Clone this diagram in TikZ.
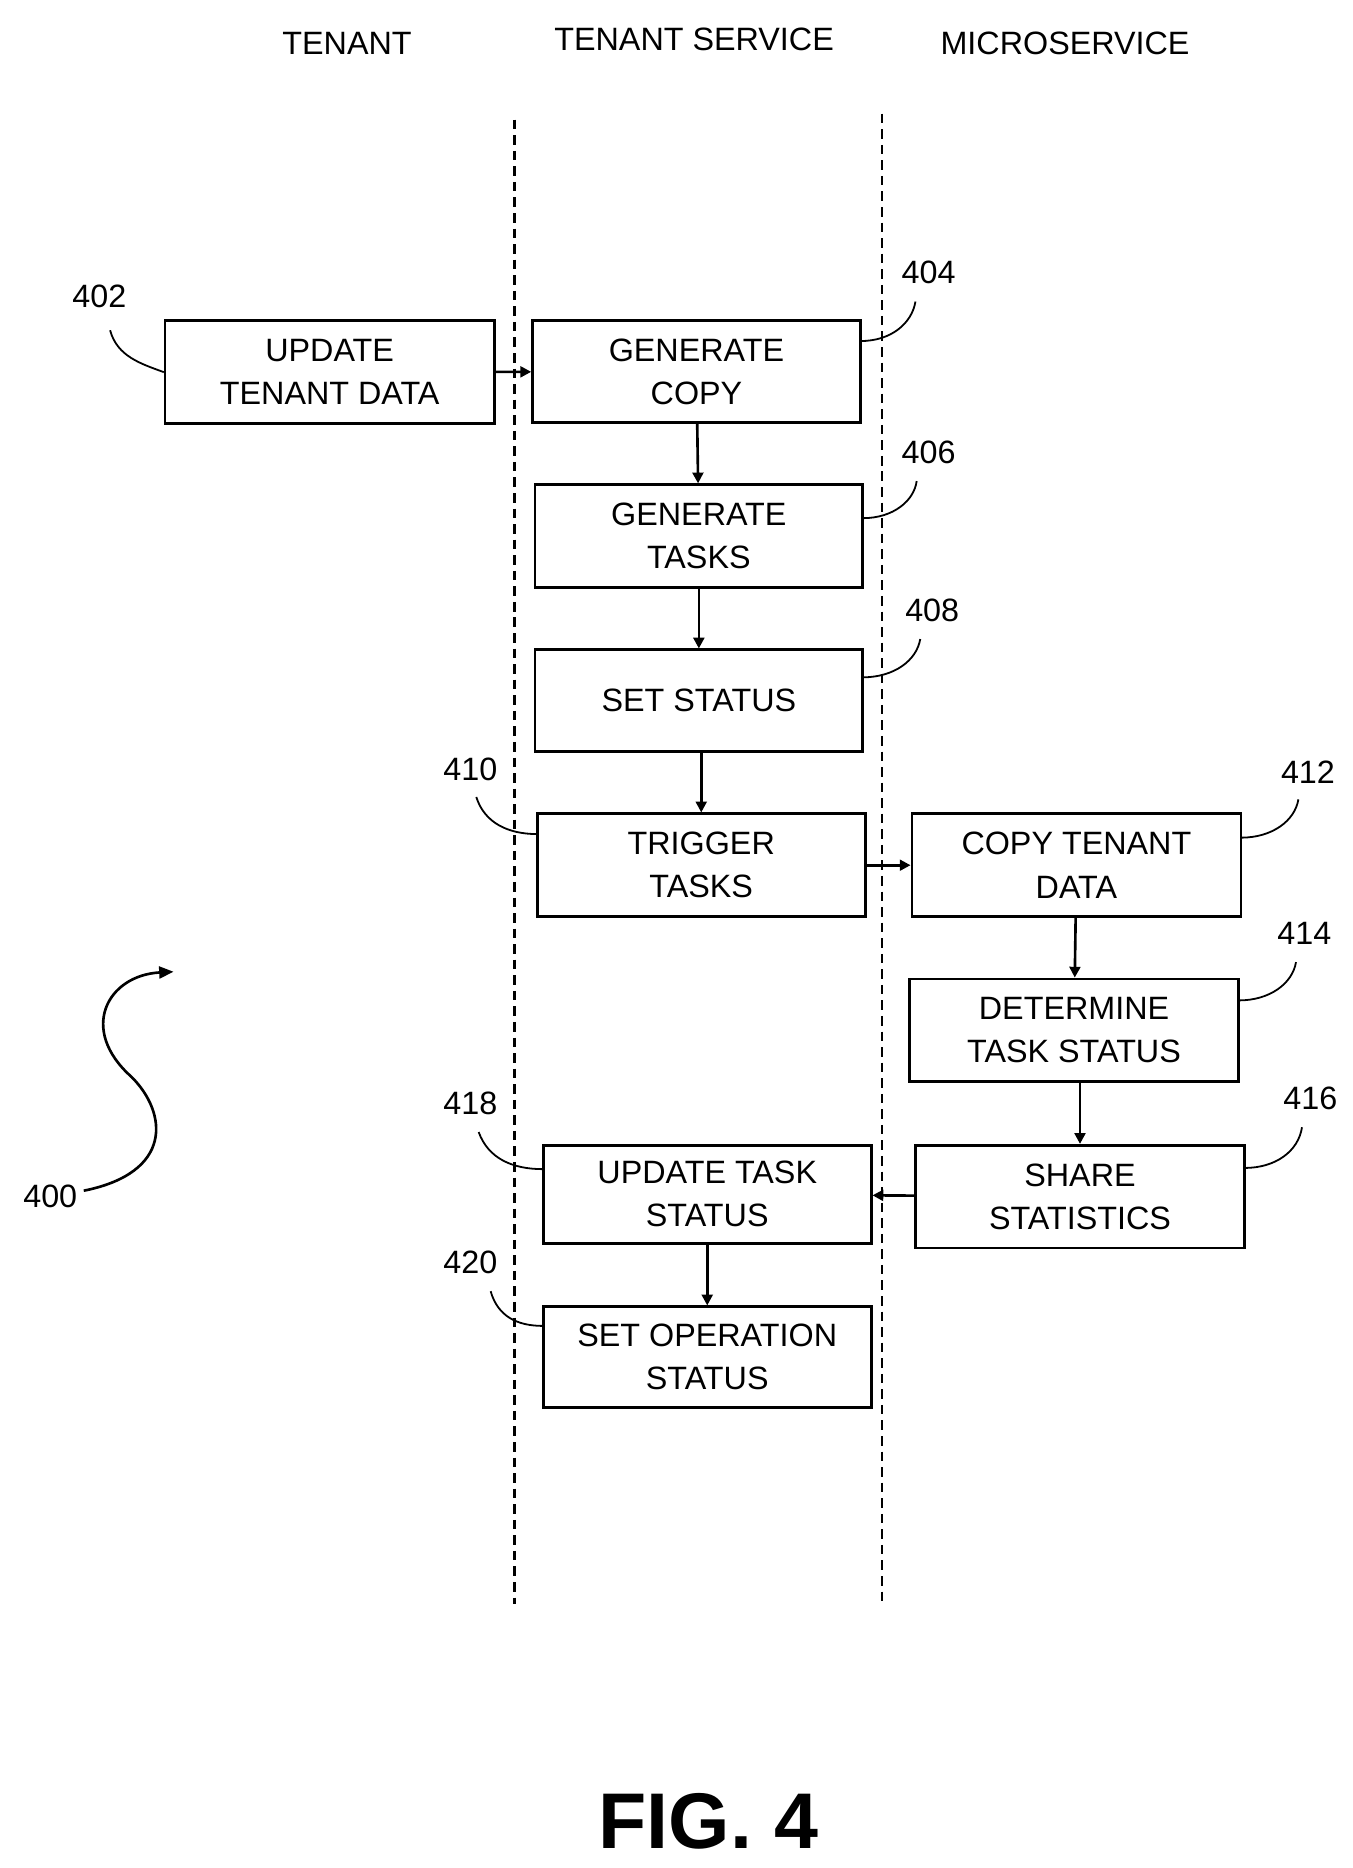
\documentclass[tikz,border=0pt]{standalone}
\usepackage{fontspec}
\setmainfont{Liberation Sans}
\usetikzlibrary{arrows.meta}
\begin{document}
\begin{tikzpicture}[x=1pt,y=-1pt,
  box/.style={draw,line width=2.2pt,inner sep=0pt,align=center,font=\fontsize{27}{36}\selectfont},
  arr/.style={line width=2.2pt,-{Triangle[length=9pt,width=9pt]}},
  lead/.style={line width=1.5pt},
  num/.style={font=\fontsize{27}{30}\selectfont},
  hdr/.style={font=\fontsize{27}{30}\selectfont},
  lane/.style={line width=2.2pt,dash pattern=on 8pt off 5pt}]
\useasboundingbox (0,0) rectangle (1130,1561);
\node[hdr] (h1) at (290,36) {TENANT};
\node[hdr] (h2) at (580,33) {TENANT SERVICE};
\node[hdr] (h3) at (890,36) {MICROSERVICE};
\coordinate (l1t) at (430,100); \coordinate (l1b) at (430,1340);
\coordinate (l2t) at (737,95); \coordinate (l2b) at (737,1340);
\draw[lane] (l1t) -- (l1b);
\draw[lane] (l2t) -- (l2b);
\newcommand{\bx}[6]{\node[box,minimum width=#4pt,minimum height=#5pt] (#1) at (#2,#3) {#6};}
\bx{b402}{275.5}{311}{275}{86}{UPDATE\\TENANT DATA}
\bx{b404}{582}{310.5}{274}{85}{GENERATE\\COPY}
\bx{b406}{584}{448}{274}{86}{GENERATE\\TASKS}
\bx{b408}{584}{585.5}{274}{85}{SET STATUS}
\bx{b410}{586}{723}{274}{86}{TRIGGER\\TASKS}
\bx{b412}{899.5}{723}{275}{86}{COPY TENANT\\DATA}
\bx{b414}{897.5}{861}{275}{86}{DETERMINE\\TASK STATUS}
\bx{b416}{902.5}{1000}{275}{86}{SHARE\\STATISTICS}
\bx{b418}{591}{998}{274}{82}{UPDATE TASK\\STATUS}
\bx{b420}{591}{1134}{274}{84}{SET OPERATION\\STATUS}
\draw[arr] (b402) -- (b404);
\draw[arr] (b404) -- (b406);
\draw[arr] (b406) -- (b408);
\draw[arr] (b408.south -| b410) -- (b410);
\draw[arr] (b410) -- (b412);
\draw[arr] (b412) -- (b414);
\draw[arr] (b414.south -| b416) -- (b416);
\draw[arr] (b416) -- (b418);
\draw[arr] (b418) -- (b420);
\node[num] (n402) at (83,248) {402};
\node[num] (n404) at (776,228) {404};
\node[num] (n406) at (776,378) {406};
\node[num] (n408) at (779,510) {408};
\node[num] (n410) at (393,643) {410};
\node[num] (n412) at (1093,645) {412};
\node[num] (n414) at (1090,780) {414};
\node[num] (n416) at (1095,918) {416};
\node[num] (n418) at (393,922) {418};
\node[num] (n420) at (393,1055) {420};
\node[num] (n400) at (42,1000) {400};
\draw[lead] (92,276) .. controls (98,298) and (118,304) .. (b402.west);
\draw[lead] (719,285) .. controls (745,285) and (762,270) .. (765,252);
\draw[lead] (721,433) .. controls (747,433) and (764,418) .. (766,402);
\draw[lead] (721,566) .. controls (747,566) and (766,552) .. (769,534);
\draw[lead] (398,666) .. controls (405,688) and (425,697) .. (449,697);
\draw[lead] (1037,700) .. controls (1063,700) and (1082,686) .. (1085,668);
\draw[lead] (1035,836) .. controls (1061,836) and (1080,822) .. (1083,804);
\draw[lead] (1040,976) .. controls (1066,976) and (1085,962) .. (1088,942);
\draw[lead] (400,946) .. controls (408,968) and (428,977) .. (454,977);
\draw[lead] (410,1079) .. controls (416,1100) and (432,1108) .. (454,1108);
\draw[line width=2.2pt,-{Triangle[length=12pt,width=10pt]}] (70,995) .. controls (145,980) and (140,930) .. (110,900) .. controls (65,860) and (90,815) .. (145,812);
\node[font=\bfseries\fontsize{66}{70}\selectfont] (fig) at (592,1522) {FIG. 4};
\end{tikzpicture}
\end{document}
